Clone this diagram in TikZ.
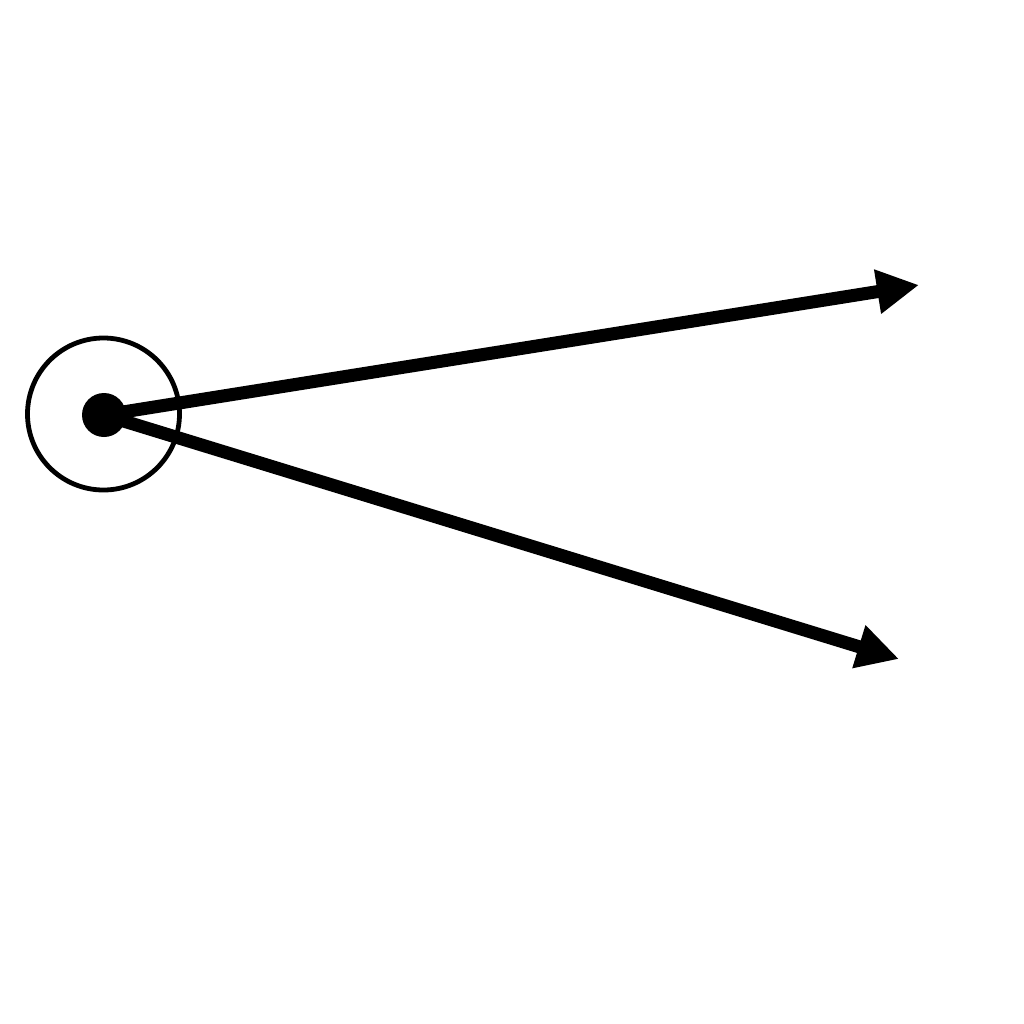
\documentclass[tikz,border=0pt]{standalone}
\usetikzlibrary{arrows.meta}
\begin{document}
\begin{tikzpicture}[x=0.5pt,y=-0.5pt,
  ring/.style={circle,draw,line width=2.4pt,minimum size=76pt,inner sep=0pt},
  dot/.style={circle,fill=black,minimum size=22pt,inner sep=0pt},
  ray/.style={line width=6.5pt,-{Triangle[length=21pt,width=21pt]}}]
\useasboundingbox (0,0) rectangle (1024,1024);
\node[ring] (ring) at (103.5,414) {};
\node[dot] (dot) at (104,415) {};
\coordinate (t1) at (919,285);
\coordinate (t2) at (899,659);
\draw[ray] (dot.center) -- (t1);
\draw[ray] (dot.center) -- (t2);
\end{tikzpicture}
\end{document}
